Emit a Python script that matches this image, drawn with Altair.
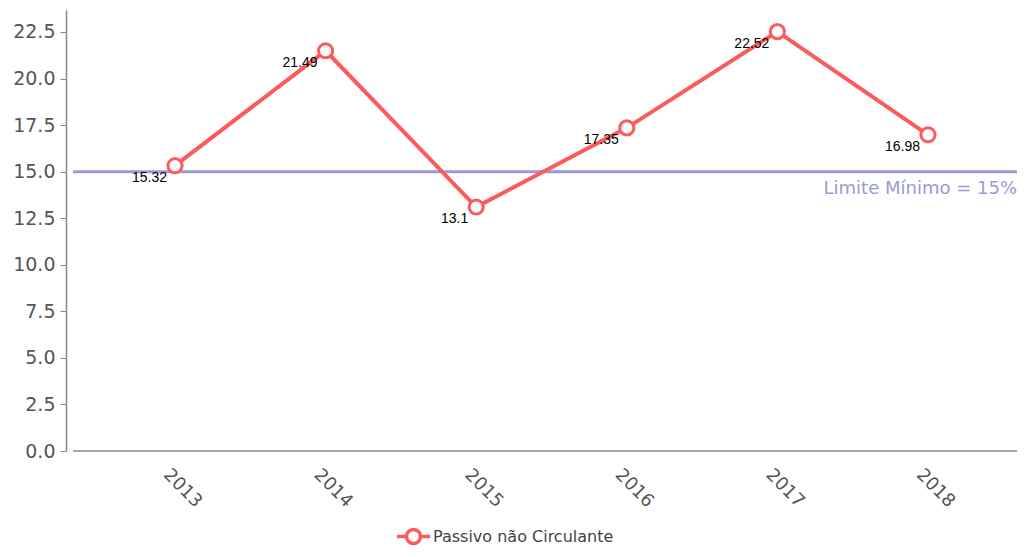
import altair as alt
import pandas as pd

years = ["2013", "2014", "2015", "2016", "2017", "2018"]
values = [15.32, 21.49, 13.1, 17.35, 22.52, 16.98]
value_labels = ["15.32", "21.49", "13.1", "17.35", "22.52", "16.98"]
series = "Passivo não Circulante"
limit_value = 15
limit_label = "Limite Mínimo = 15%"
y_ticks = [0, 2.5, 5, 7.5, 10, 12.5, 15, 17.5, 20, 22.5]

df = pd.DataFrame({"ano": years, "valor": values, "rot": value_labels, "serie": series})

W, H = 944, 441
RED = "#fd5b5b"
LIM = "#9a9ad9"
AX = "#888888"

xenc = alt.X("ano:O", sort=years, title=None,
             scale=alt.Scale(type="point", range=[102, 855], padding=0),
             axis=alt.Axis(labelAngle=45, labelAlign="center", labelBaseline="middle",
                           labelPadding=37, labelOffset=7, tickSize=0, domain=False,
                           labelFont="DejaVu Sans", labelFontSize=18,
                           labelColor="#555"))
yenc = alt.Y("valor:Q", title=None,
             scale=alt.Scale(domain=[0, 23.68], nice=False, zero=True),
             axis=alt.Axis(values=y_ticks, format=".1f", grid=False, offset=7,
                           tickSize=6, tickColor=AX, domainColor=AX, domainWidth=1.5,
                           labelFont="DejaVu Sans", labelFontSize=19, labelColor="#555",
                           labelPadding=5))

base = alt.Chart(df)

symbol_path = "M-1,0L-0.42,0M0.42,0L1,0M-0.42,0A0.42,0.42,0,1,1,0.42,0A0.42,0.42,0,1,1,-0.42,0Z"

line = base.mark_line(strokeWidth=4).encode(
    x=xenc, y=yenc,
    color=alt.Color("serie:N", scale=alt.Scale(range=[RED]), title=None,
                    legend=alt.Legend(orient="none", legendX=322, legendY=508,
                                      symbolType=symbol_path, symbolSize=1100,
                                      symbolStrokeWidth=3.5, symbolFillColor="white",
                                      symbolStrokeColor=RED, labelLimit=400,
                                      labelFont="DejaVu Sans", labelFontSize=16,
                                      labelColor="#444", labelOffset=1))
)

points = base.mark_point(shape="circle", size=200, filled=False, fill="white",
                         fillOpacity=1, stroke=RED, strokeWidth=3, opacity=1).encode(
    x=xenc, y=yenc
)

texts = base.mark_text(align="right", baseline="middle", dx=-8, dy=12,
                       font="Liberation Sans", fontSize=14, color="#000").encode(
    x=xenc, y=yenc, text="rot:N"
)

xdomain = alt.Chart(pd.DataFrame({"v": [0]})).mark_rule(
    color=AX, strokeWidth=1.5).encode(y=alt.Y("v:Q"), x=alt.value(0), x2=alt.value(W))

rule = alt.Chart(pd.DataFrame({"v": [limit_value]})).mark_rule(
    color=LIM, strokeWidth=3).encode(y=alt.Y("v:Q"))

limtext = alt.Chart(pd.DataFrame({"v": [limit_value], "t": [limit_label]})).mark_text(
    align="right", baseline="middle", dy=17, font="DejaVu Sans", fontSize=18, color=LIM
).encode(y=alt.Y("v:Q"), x=alt.value(W), text="t:N")

chart = alt.layer(xdomain, rule, line, points, texts, limtext).properties(
    width=W, height=H,
    autosize=alt.AutoSizeParams(type="none"),
    padding={"left": 65, "top": 2, "right": 0, "bottom": 96},
).configure_view(stroke=None)

chart.save("out.html", embed_options={"renderer": "svg", "actions": False})
